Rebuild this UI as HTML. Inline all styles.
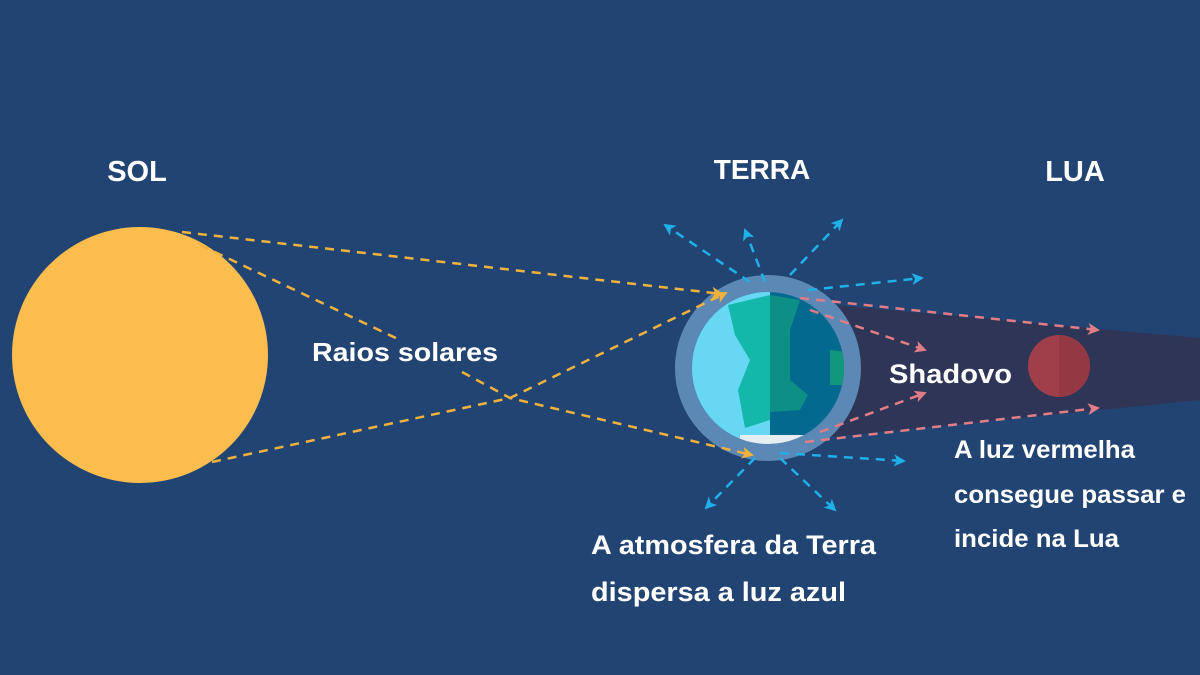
<!DOCTYPE html>
<html><head><meta charset="utf-8"><style>
html,body{margin:0;padding:0;background:#224473;}
svg{display:block}
text{font-family:"Liberation Sans",sans-serif;font-weight:bold;fill:#fff}
</style></head><body>
<svg width="1200" height="675" viewBox="0 0 1200 675">
<defs>
<marker id="ay" markerUnits="userSpaceOnUse" markerWidth="14" markerHeight="14" refX="10" refY="7" orient="auto"><path d="M0,1 L12,7 L0,13 L3,7Z" fill="#f0b23c"/></marker>
<marker id="ab" markerUnits="userSpaceOnUse" markerWidth="14" markerHeight="14" refX="10" refY="7" orient="auto"><path d="M0,1 L12,7 L0,13 L3,7Z" fill="#1fb0e8"/></marker>
<marker id="ar" markerUnits="userSpaceOnUse" markerWidth="14" markerHeight="14" refX="10" refY="7" orient="auto"><path d="M0,1 L12,7 L0,13 L3,7Z" fill="#e07d86"/></marker>
<clipPath id="ec"><circle cx="768" cy="368" r="76"/></clipPath>
</defs>
<rect width="1200" height="675" fill="#224473"/>
<polygon points="800,302 1200,338 1200,400 800,440" fill="#2f3556"/>
<circle cx="140" cy="355" r="128" fill="#fcbd4f"/>
<circle cx="768" cy="368" r="93" fill="#5b88b4"/>
<g clip-path="url(#ec)">
<rect x="690" y="290" width="80" height="160" fill="#66d8f4"/>
<rect x="770" y="290" width="80" height="160" fill="#04698f"/>
<path d="M728,305 L770,295 L770,420 L745,428 L738,390 L750,360 L735,335Z" fill="#14b8aa"/>
<path d="M770,295 L800,300 L790,330 L790,380 L808,395 L800,410 L770,412Z" fill="#0e8f86"/>
<path d="M830,350 L846,352 L846,385 L830,385Z" fill="#11977e"/>
<rect x="740" y="435" width="70" height="15" fill="#e6eef2"/>
</g>
<g stroke="#f0b23c" stroke-width="2.5" stroke-dasharray="9,7" fill="none">
<line x1="182" y1="232" x2="722" y2="294" marker-end="url(#ay)"/>
<path d="M200,245 L400,340" />
<path d="M462,372 L510,398 L752,455" marker-end="url(#ay)"/>
<path d="M212,462 L510,398 L726,293" marker-end="url(#ay)"/>
</g>
<g stroke="#e07d86" stroke-width="2.5" stroke-dasharray="9,7" fill="none">
<line x1="800" y1="298" x2="1098" y2="330" marker-end="url(#ar)"/>
<line x1="810" y1="310" x2="925" y2="350" marker-end="url(#ar)"/>
<line x1="820" y1="432" x2="925" y2="393" marker-end="url(#ar)"/>
<line x1="805" y1="442" x2="1098" y2="408" marker-end="url(#ar)"/>
</g>
<g stroke="#1fb0e8" stroke-width="2.5" stroke-dasharray="9,7" fill="none">
<line x1="750" y1="282" x2="665" y2="225" marker-end="url(#ab)"/>
<line x1="765" y1="282" x2="745" y2="230" marker-end="url(#ab)"/>
<line x1="790" y1="275" x2="842" y2="220" marker-end="url(#ab)"/>
<line x1="808" y1="290" x2="922" y2="278" marker-end="url(#ab)"/>
<line x1="780" y1="453" x2="904" y2="461" marker-end="url(#ab)"/>
<line x1="755" y1="458" x2="706" y2="508" marker-end="url(#ab)"/>
<line x1="780" y1="458" x2="835" y2="510" marker-end="url(#ab)"/>
</g>
<circle cx="1059" cy="366" r="31" fill="#9f3f4a"/>
<path d="M1059,335 A31,31 0 0 1 1059,397Z" fill="#943844"/>
<text x="137" y="181" font-size="29" text-anchor="middle">SOL</text>
<text x="762" y="179" font-size="28" text-anchor="middle">TERRA</text>
<text x="1075" y="181" font-size="29" text-anchor="middle">LUA</text>
<text x="312" y="361" font-size="26" textLength="186" lengthAdjust="spacingAndGlyphs">Raios solares</text>
<text x="889" y="383" font-size="27" textLength="123" lengthAdjust="spacingAndGlyphs">Shadovo</text>
<text x="954" y="458" font-size="25" textLength="181" lengthAdjust="spacingAndGlyphs">A luz vermelha</text>
<text x="954" y="503" font-size="25" textLength="232" lengthAdjust="spacingAndGlyphs">consegue passar e</text>
<text x="954" y="547" font-size="25" textLength="165" lengthAdjust="spacingAndGlyphs">incide na Lua</text>
<text x="591" y="554" font-size="27" textLength="285" lengthAdjust="spacingAndGlyphs">A atmosfera da Terra</text>
<text x="591" y="601" font-size="27" textLength="255" lengthAdjust="spacingAndGlyphs">dispersa a luz azul</text>
</svg>
</body></html>
